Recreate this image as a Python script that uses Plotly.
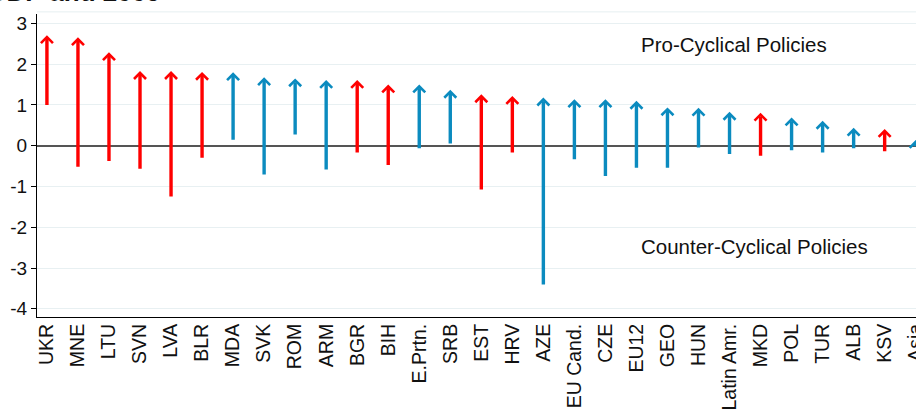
import plotly.graph_objects as go

countries = ["UKR", "MNE", "LTU", "SVN", "LVA", "BLR", "MDA", "SVK", "ROM", "ARM",
             "BGR", "BIH", "E.Prtn.", "SRB", "EST", "HRV", "AZE", "EU Cand.", "CZE",
             "EU12", "GEO", "HUN", "Latin Amr.", "MKD", "POL", "TUR", "ALB", "KSV", "Asia"]
start_vals = [0.96, -0.55, -0.41, -0.60, -1.28, -0.33, 0.11, -0.74, 0.24, -0.62,
              -0.20, -0.51, -0.10, 0.02, -1.11, -0.20, -3.44, -0.37, -0.78,
              -0.58, -0.58, -0.08, -0.24, -0.28, -0.15, -0.20, -0.10, -0.17, -0.05]
end_vals = [2.71, 2.66, 2.29, 1.83, 1.83, 1.81, 1.80, 1.68, 1.65, 1.61,
            1.61, 1.50, 1.50, 1.37, 1.26, 1.22, 1.18, 1.14, 1.14,
            1.10, 0.94, 0.93, 0.83, 0.81, 0.69, 0.61, 0.44, 0.41, 0.14]
policy = ["pro", "pro", "pro", "pro", "pro", "pro", "counter", "counter", "counter", "counter",
          "pro", "pro", "counter", "counter", "pro", "pro", "counter", "counter", "counter",
          "counter", "counter", "counter", "counter", "pro", "counter", "counter", "counter", "pro", "counter"]
y_ticks = [-4, -3, -2, -1, 0, 1, 2, 3]
y_tick_labels = ["-4", "-3", "-2", "-1", "0", "1", "2", "3"]
title_text = "Structural Fiscal Balance, % of GDP and 2009"

colors = {"pro": "#ff0000", "counter": "#0b8bbf"}
FONT = "Liberation Sans, Arial, sans-serif"

x_idx = list(range(len(countries)))

fig = go.Figure()
fig.add_trace(go.Scatter(x=x_idx, y=end_vals, mode="markers",
                         marker=dict(opacity=0), hoverinfo="skip", showlegend=False))

annotations = []
for i, (s, e, p) in enumerate(zip(start_vals, end_vals, policy)):
    annotations.append(dict(
        x=i, y=e, ax=i, ay=s, xref="x", yref="y", axref="x", ayref="y",
        showarrow=True, arrowhead=4, arrowwidth=3.4, arrowsize=0.68,
        arrowcolor=colors[p], text="", standoff=0,
    ))

annotations.append(dict(x=19.08, y=2.48, xref="x", yref="y", text="Pro-Cyclical Policies",
                        showarrow=False, xanchor="left", yanchor="middle",
                        font=dict(family=FONT, size=20.5, color="#111111")))
annotations.append(dict(x=19.08, y=-2.48, xref="x", yref="y", text="Counter-Cyclical Policies",
                        showarrow=False, xanchor="left", yanchor="middle",
                        font=dict(family=FONT, size=20.5, color="#111111")))
annotations.append(dict(x=0.1433, y=1.016, xref="paper", yref="paper", text="<b>" + title_text + "</b>",
                        showarrow=False, xanchor="right", yanchor="bottom",
                        font=dict(family=FONT, size=26, color="#111111")))

fig.update_layout(
    width=916, height=411,
    margin=dict(l=37, r=0, t=14, b=94, pad=0, autoexpand=False),
    paper_bgcolor="white", plot_bgcolor="white",
    showlegend=False,
    annotations=annotations,
    shapes=[dict(type="line", xref="paper", yref="paper", x0=0, x1=1, y0=1.007, y1=1.007,
                 line=dict(color="#e6eff1", width=1))],
    xaxis=dict(range=[-0.32, 28.01], tickmode="array", tickvals=x_idx, ticktext=countries,
               tickangle=-90, showgrid=False, zeroline=False, showline=True,
               linecolor="#000000", linewidth=1, ticks="", automargin=False,
               ticklabeloverflow="allow", ticklabelstandoff=-2,
               tickfont=dict(family=FONT, size=19.5, color="#111111")),
    yaxis=dict(range=[-4.2, 3.23], tickmode="array", tickvals=y_ticks, ticktext=y_tick_labels,
               showgrid=True, gridcolor="#e8f0f2", gridwidth=1,
               zeroline=True, zerolinecolor="#555555", zerolinewidth=1.5,
               showline=True, linecolor="#000000", linewidth=1, automargin=False,
               ticks="outside", ticklen=5, tickcolor="#000000",
               tickfont=dict(family=FONT, size=19, color="#111111")),
)

fig.write_html("out.html", config={"displayModeBar": False},
               post_script="document.body.style.margin='0';document.body.style.overflow='hidden';")
